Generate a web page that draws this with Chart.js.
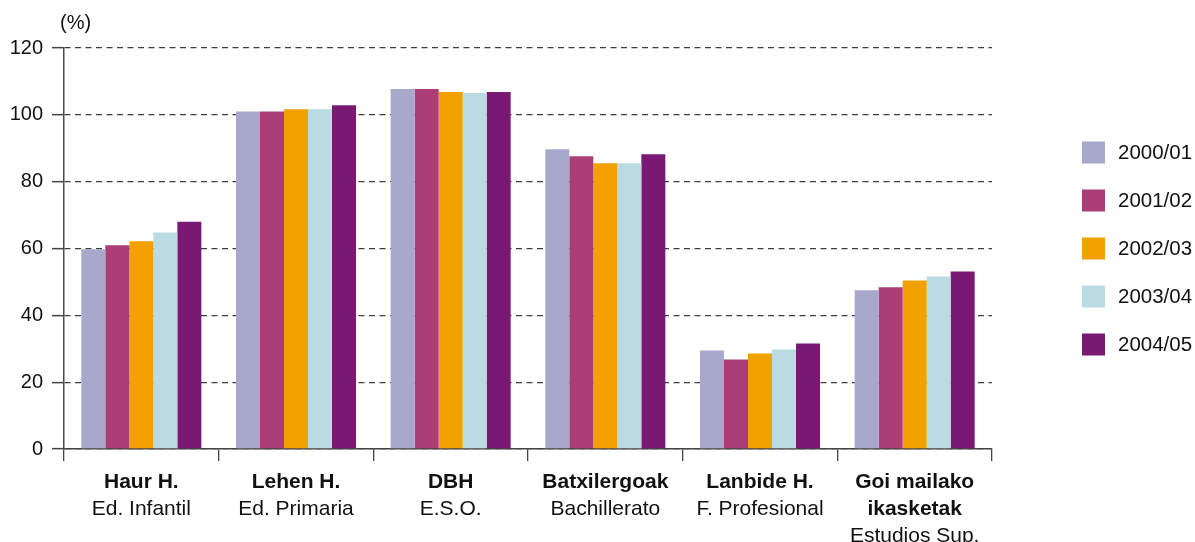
<!DOCTYPE html>
<html>
<head>
<meta charset="utf-8">
<script src="https://cdn.jsdelivr.net/npm/chart.js@4/dist/chart.umd.min.js"></script>
<style>
  html, body { margin: 0; padding: 0; background: #ffffff; }
  #wrap { width: 1195px; height: 542px; position: relative; }
</style>
</head>
<body>
<div id="wrap"><canvas id="c" width="1195" height="542"></canvas></div>
<script>
// Category labels: first line(s) in Basque (bold), last line in Spanish
const categoriesBasque = [["Haur H."], ["Lehen H."], ["DBH"], ["Batxilergoak"], ["Lanbide H."], ["Goi mailako", "ikasketak"]];
const categoriesSpanish = ["Ed. Infantil", "Ed. Primaria", "E.S.O.", "Bachillerato", "F. Profesional", "Estudios Sup."];

const seriesNames = ["2000/01", "2001/02", "2002/03", "2003/04", "2004/05"];
const values2000_01 = [59.8, 101.0, 107.7, 89.7, 29.5, 47.5];
const values2001_02 = [61.0, 101.0, 107.7, 87.6, 26.8, 48.4];
const values2002_03 = [62.2, 101.7, 106.8, 85.5, 28.6, 50.4];
const values2003_04 = [64.8, 101.7, 106.5, 85.5, 29.8, 51.6];
const values2004_05 = [68.0, 102.9, 106.8, 88.2, 31.6, 53.1];
const seriesColors = ["#a8a8cc", "#ab3e77", "#f3a100", "#badbe1", "#7a1973"];

const yMin = 0, yMax = 120, yStep = 20;
const unitLabel = "(%)";

const FONT = "'Liberation Sans', Arial, sans-serif";

const allValues = [values2000_01, values2001_02, values2002_03, values2003_04, values2004_05];
const datasets = seriesNames.map((name, i) => ({
  label: name,
  data: allValues[i],
  backgroundColor: seriesColors[i],
  borderWidth: 0,
  categoryPercentage: 0.776,
  barPercentage: 1.0
}));

const extrasPlugin = {
  id: 'extras',
  afterDraw(chart) {
    const ctx = chart.ctx;
    const xs = chart.scales.x;
    ctx.save();
    ctx.fillStyle = '#111111';
    // unit label
    ctx.font = "20px " + FONT;
    ctx.textAlign = 'left';
    ctx.textBaseline = 'alphabetic';
    ctx.fillText(unitLabel, 60, 29);
    // category labels
    ctx.textAlign = 'center';
    const lh = 27;
    chart.data.labels.forEach((lab, i) => {
      const cx = xs.getPixelForTick(i);
      let y = 488;
      categoriesBasque[i].forEach(line => {
        ctx.font = "bold 21px " + FONT;
        ctx.fillText(line, cx, y);
        y += lh;
      });
      ctx.font = "21px " + FONT;
      ctx.fillText(categoriesSpanish[i], cx, y);
    });
    // legend
    ctx.textAlign = 'left';
    ctx.textBaseline = 'middle';
    ctx.font = "20.5px " + FONT;
    chart.data.datasets.forEach((ds, i) => {
      const cy = 152.5 + i * 48;
      ctx.fillStyle = ds.backgroundColor;
      ctx.fillRect(1082, cy - 11, 23, 22);
      ctx.fillStyle = '#111111';
      ctx.fillText(ds.label, 1118, cy + 1);
    });
    ctx.restore();
  }
};

new Chart(document.getElementById('c'), {
  type: 'bar',
  data: { labels: categoriesSpanish, datasets: datasets },
  options: {
    responsive: false,
    animation: false,
    devicePixelRatio: 1,
    layout: { padding: { top: 48, right: 203, bottom: 0, left: 0 } },
    plugins: { legend: { display: false }, tooltip: { enabled: false } },
    scales: {
      x: {
        grid: {
          offset: true,
          drawOnChartArea: false,
          drawTicks: true,
          tickLength: 12,
          color: '#444444',
          lineWidth: 1.3
        },
        border: { display: true, color: '#444444', width: 1.5 },
        ticks: { display: false },
        afterFit(scale) { scale.height = 93; }
      },
      y: {
        min: yMin,
        max: yMax,
        ticks: {
          stepSize: yStep,
          padding: 9,
          color: '#111111',
          font: { family: FONT, size: 20 }
        },
        grid: {
          color: '#3d3d3d',
          lineWidth: 1.3,
          tickLength: 12,
          tickColor: '#444444',
          tickBorderDash: [],
          tickWidth: 1.5
        },
        border: { display: true, color: '#4a4a4a', width: 1.5, dash: [6, 4.5] },
        afterFit(scale) { scale.width = 64; }
      }
    }
  },
  plugins: [extrasPlugin]
});
</script>
</body>
</html>
